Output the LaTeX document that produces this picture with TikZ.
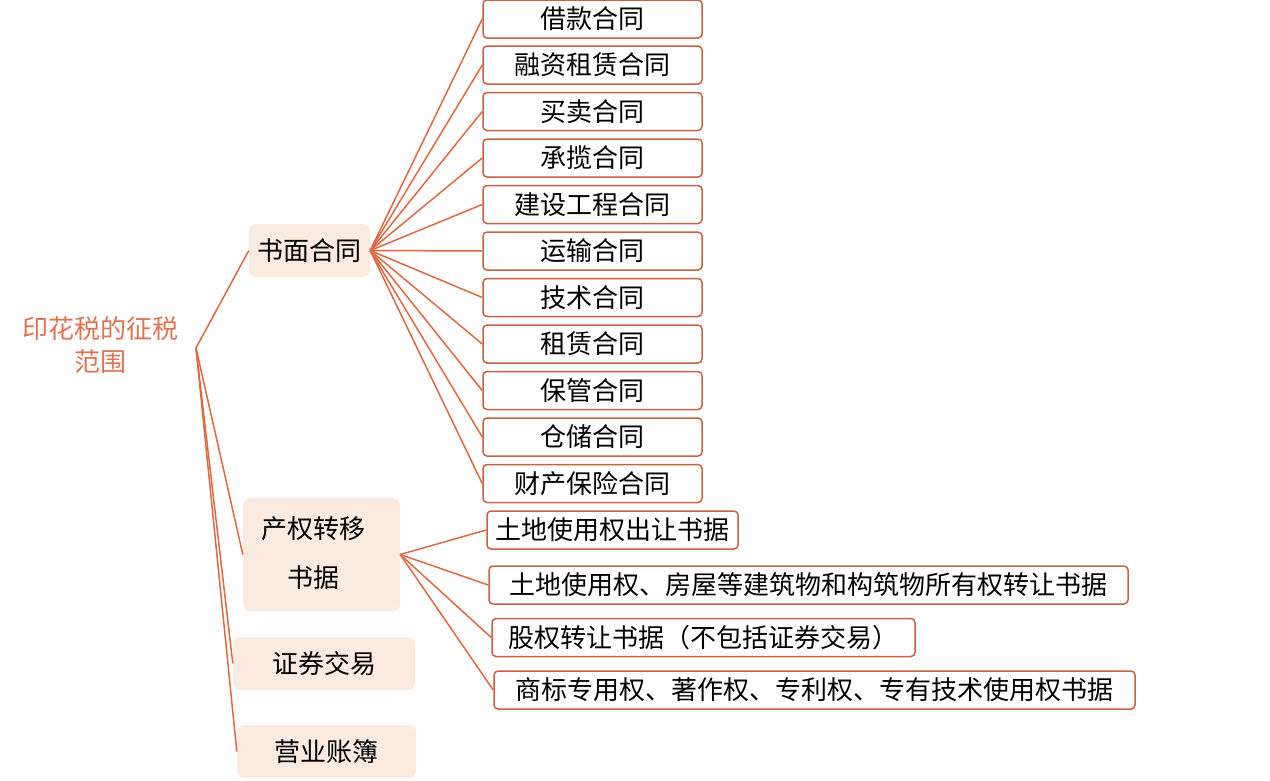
\documentclass[tikz,border=0pt]{standalone}
\usepackage{fontspec}
\newfontfamily\cjk{Noto Sans CJK SC}
\definecolor{linec}{HTML}{E0683F}
\definecolor{boxc}{HTML}{C9613F}
\definecolor{midfill}{HTML}{FBEAE0}
\definecolor{rootc}{HTML}{DF7350}
\begin{document}
\begin{tikzpicture}[x=1pt,y=-1pt,
  leaf/.style={draw=boxc, line width=1.5pt, rounded corners=4pt, fill=white, minimum height=38pt, inner sep=0pt, font=\cjk\fontsize{26}{30}\selectfont},
  mid/.style={fill=midfill, rounded corners=7pt, inner sep=0pt, align=center, font=\cjk\fontsize{26}{30}\selectfont},
  link/.style={draw=linec, line width=1.5pt},
  rootlab/.style={text=rootc, align=center, inner sep=0pt, font=\cjk\fontsize{26}{33}\selectfont}]
\useasboundingbox (0,0) rectangle (1270,780);

\node[rootlab] (root) at (101,345) {印花税的征税\\范围};
\coordinate (R) at (196,348);

\node[mid, minimum width=121pt, minimum height=53pt] (a) at (309.5,250.5) {书面合同};
\node[mid, minimum width=157pt, minimum height=113pt] (b) at (321.5,554.5) {};
\node[align=center, inner sep=0pt, font=\cjk\fontsize{26}{49}\selectfont] (bt) at (313,553) {产权转移\\书据};
\node[mid, minimum width=182pt, minimum height=53pt] (c) at (324,663.5) {证券交易};
\node[mid, minimum width=179pt, minimum height=53pt] (d) at (326.5,751.5) {营业账簿};

\foreach \n/\y/\t in {a1/19/借款合同, a2/65/融资租赁合同, a3/111.5/买卖合同, a4/158/承揽合同, a5/204.5/建设工程合同, a6/251/运输合同, a7/297.5/技术合同, a8/344/租赁合同, a9/390.5/保管合同, a10/437/仓储合同, a11/483.5/财产保险合同}{
  \node[leaf, minimum width=219pt] (\n) at (592.5,\y) {\t};
}

\node[leaf, minimum width=251pt] (b1) at (612.5,530) {土地使用权出让书据};
\node[leaf, minimum width=639pt] (b2) at (808.5,585) {土地使用权、房屋等建筑物和构筑物所有权转让书据};
\node[leaf, minimum width=423pt] (b3) at (703.5,637.5) {股权转让书据（不包括证券交易）};
\node[leaf, minimum width=641pt] (b4) at (814.5,690) {商标专用权、著作权、专利权、专有技术使用权书据};

\foreach \m in {a,b,c,d}{
  \draw[link] (R) -- (\m.west);
}
\foreach \k in {1,...,11}{
  \draw[link] (a.east) -- (a\k.west);
}
\foreach \k in {1,...,4}{
  \draw[link] (b.east) -- (b\k.west);
}
\end{tikzpicture}
\end{document}
